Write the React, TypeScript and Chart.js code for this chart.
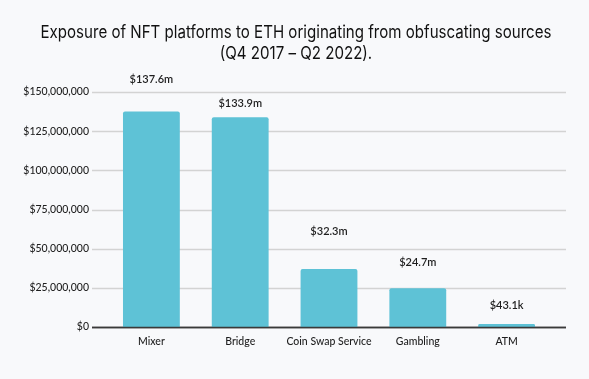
import React, { useEffect, useRef } from "react";
import { Chart, registerables } from "chart.js";

Chart.register(...registerables);

const categories = ["Mixer", "Bridge", "Coin Swap Service", "Gambling", "ATM"];
const values = [137600000, 133900000, 37000000, 24700000, 1900000];
const valueLabels = ["$137.6m", "$133.9m", "$32.3m", "$24.7m", "$43.1k"];
const labelAnchors = [158000000, 142500000, 61300000, 41300000, 14000000];
const titleLines = [
  "Exposure of NFT platforms to ETH originating from obfuscating sources",
  "(Q4 2017 – Q2 2022).",
];

const TITLE_FONT = "Inter, 'Noto Sans', sans-serif";
const FONT = "Lato, 'Noto Sans', sans-serif";

const fmt = (v: number) => "$" + Math.round(v).toLocaleString("en-US");

export default function App() {
  const ref = useRef<HTMLCanvasElement | null>(null);
  useEffect(() => {
    document.body.style.margin = "0";
    document.body.style.background = "#f8f9fb";
    const canvas = ref.current!;
    const bg = {
      id: "bg",
      beforeDraw(chart: any) {
        const c = chart.ctx;
        c.save();
        c.fillStyle = "#f8f9fb";
        c.fillRect(0, 0, chart.width, chart.height);
        c.fillStyle = "#111";
        c.font = `400 17.5px ${TITLE_FONT}`;
        c.textAlign = "center";
        c.textBaseline = "alphabetic";
        const w0 = c.measureText(titleLines[0]).width;
        const sx = 511 / w0;
        c.save();
        c.translate(296, 0);
        c.scale(sx, 1);
        c.fillText(titleLines[0], 0, 38);
        c.fillText(titleLines[1], 0, 59);
        c.restore();
        c.restore();
      },
      beforeDatasetsDraw(chart: any) {
        const c = chart.ctx;
        const y = chart.scales.y;
        const { left, right } = chart.chartArea;
        c.save();
        y.ticks.forEach((t: any) => {
          const py = Math.round(y.getPixelForValue(t.value)) + 0.5;
          c.beginPath();
          c.strokeStyle = t.value === 0 ? "#3a3a3a" : "#d3d3d3";
          c.lineWidth = 1.5;
          c.moveTo(left - 15, py);
          c.lineTo(right + 15, py);
          c.stroke();
        });
        c.restore();
      },
      afterDatasetsDraw(chart: any) {
        const c = chart.ctx;
        const y = chart.scales.y;
        const x = chart.scales.x;
        c.save();
        c.fillStyle = "#1e1e1e";
        c.font = `600 11px ${FONT}`;
        c.textAlign = "center";
        c.textBaseline = "middle";
        valueLabels.forEach((l, i) => {
          c.fillText(l, x.getPixelForValue(i), y.getPixelForValue(labelAnchors[i]));
        });
        const py = Math.round(y.getPixelForValue(0)) + 0.5;
        c.beginPath();
        c.strokeStyle = "#3a3a3a";
        c.lineWidth = 1.5;
        c.moveTo(chart.chartArea.left - 15, py);
        c.lineTo(chart.chartArea.right + 15, py);
        c.stroke();
        c.restore();
      },
    };
    const chart = new Chart(canvas, {
      type: "bar",
      data: {
        labels: categories,
        datasets: [
          {
            data: values,
            backgroundColor: "#5ec2d6",
            borderRadius: { topLeft: 2, topRight: 2, bottomLeft: 0, bottomRight: 0 },
            borderSkipped: "bottom",
            barPercentage: 0.8,
            categoryPercentage: 0.8,
          },
        ],
      },
      options: {
        animation: false,
        responsive: false,
        devicePixelRatio: 1,
        layout: { padding: { top: 92, right: 38, left: 0, bottom: 0 } },
        plugins: { legend: { display: false }, tooltip: { enabled: false }, title: { display: false } },
        scales: {
          x: {
            grid: { display: false, drawTicks: false },
            border: { display: false },
            ticks: {
              color: "#1e1e1e",
              font: { family: FONT, size: 10.5, weight: "500" },
              padding: 8,
              maxRotation: 0,
              autoSkip: false,
            },
            afterFit(s: any) {
              s.height = 52;
            },
          },
          y: {
            min: 0,
            max: 150000000,
            grid: { display: false, drawTicks: false },
            border: { display: false },
            ticks: {
              stepSize: 25000000,
              color: "#1e1e1e",
              font: { family: FONT, size: 10.5, weight: "500" },
              padding: 18,
              callback: (v: any) => fmt(Number(v)),
            },
            afterFit(s: any) {
              s.width = 107;
            },
          },
        },
      },
      plugins: [bg],
    });
    return () => chart.destroy();
  }, []);
  return <canvas ref={ref} width={589} height={379} style={{ display: "block" }} />;
}
